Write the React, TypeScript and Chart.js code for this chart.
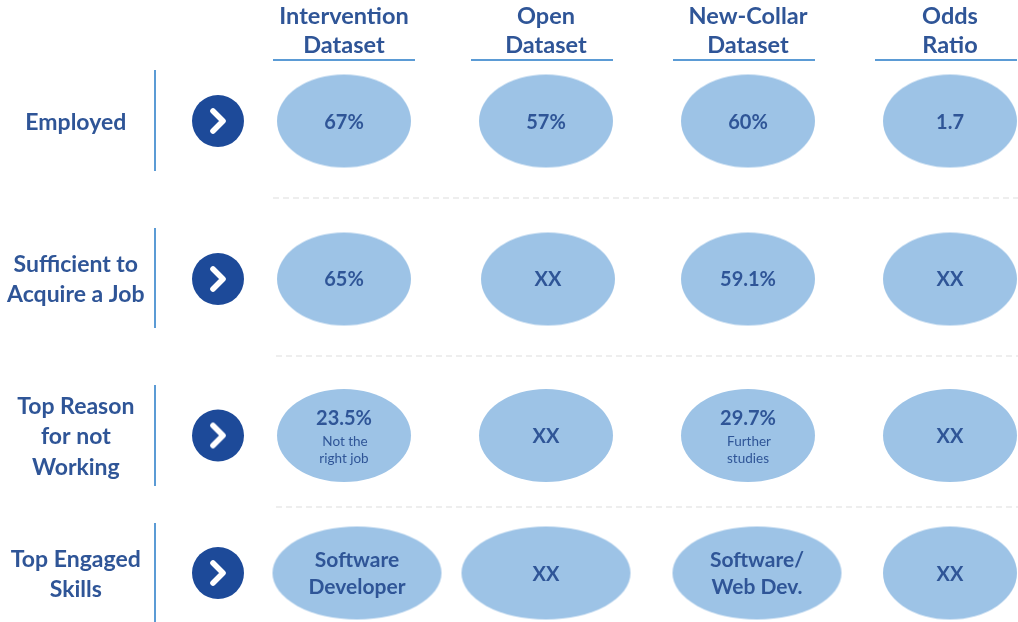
import React, { useEffect, useRef } from "react";
import { Chart, registerables } from "chart.js";

Chart.register(...registerables);

// ---- content ----
const columnLabels = [["Intervention", "Dataset"], ["Open", "Dataset"], ["New-Collar", "Dataset"], ["Odds", "Ratio"]];
const rowLabels = [["Employed"], ["Sufficient to", "Acquire a Job"], ["Top Reason", "for not", "Working"], ["Top Engaged", "Skills"]];
const employedValues = ["67%", "57%", "60%", "1.7"];
const sufficientValues = ["65%", "XX", "59.1%", "XX"];
const reasonValues = ["23.5%", "XX", "29.7%", "XX"];
const reasonNotes = [["Not the", "right job"], [], ["Further", "studies"], []];
const skillValues = [["Software", "Developer"], ["XX"], ["Software/", "Web Dev."], ["XX"]];

// ---- layout (separate from content) ----
const W = 1018;
const H = 622;
const HEADER_H = 60;
const columnCenters = [344, 546, 748, 950];
const rowCenters = [121, 279, 435.5, 573];
const rowLabelCenters = [122.5, 280, 437, 574.5];
const cellX = [
  [344, 546, 748, 950],
  [344, 548, 748, 950],
  [344, 546, 748, 950],
  [357, 546, 757, 950],
];
const cellRx = [
  [67, 67, 67, 67],
  [67, 67, 67, 67],
  [67, 67, 67, 67],
  [84.5, 84.5, 84.5, 67],
];
const CELL_RY = 46.5;
const ARROW_X = 218;
const ruleX = 155;
const ruleSpans = [[70, 171], [228, 328], [385, 486], [523, 622]];
const dividers = [[198, 273], [356, 276], [507, 276]];
const underlineSpans = [[273, 415], [471, 613], [673, 815], [875, 1017]];

const INK = "#2F5597";
const CELL = "#9DC3E6";
const ARROW = "#1D4A99";
const RULE = "#5B9BD5";
const DIVIDER = "#E9E9E9";
const FONT = "Lato, 'Open Sans', sans-serif";

function ellipseSprite(rx: number, ry: number) {
  const c = document.createElement("canvas");
  c.width = Math.ceil(rx * 2) + 2;
  c.height = Math.ceil(ry * 2) + 2;
  const g = c.getContext("2d")!;
  g.fillStyle = CELL;
  g.beginPath();
  g.ellipse(c.width / 2, c.height / 2, rx, ry, 0, 0, Math.PI * 2);
  g.fill();
  return c;
}

function chevronSprite() {
  const c = document.createElement("canvas");
  c.width = 24;
  c.height = 32;
  const g = c.getContext("2d")!;
  g.strokeStyle = "#FFFFFF";
  g.lineWidth = 5.6;
  g.lineCap = "round";
  g.lineJoin = "round";
  g.beginPath();
  g.moveTo(7, 6);
  g.lineTo(17, 16);
  g.lineTo(7, 26);
  g.stroke();
  return c;
}

const cellText = {
  id: "cellText",
  afterDatasetsDraw(chart: any) {
    const ctx = chart.ctx;
    const idx = chart.data.datasets.findIndex((d: any) => d.label === "cells");
    const pts = chart.getDatasetMeta(idx).data;
    ctx.save();
    ctx.fillStyle = INK;
    ctx.textAlign = "center";
    ctx.textBaseline = "middle";
    const put = (s: string, x: number, y: number, font: string) => {
      ctx.font = font;
      ctx.fillText(s, x, y);
    };
    const big = `bold 20px ${FONT}`;
    const mid = `bold 21px ${FONT}`;
    const small = `13.5px ${FONT}`;
    for (let c = 0; c < 4; c++) {
      const a = pts[c];
      put(employedValues[c], a.x, a.y + 1.5, big);
      const b = pts[4 + c];
      put(sufficientValues[c], b.x, b.y + 1, big);
      const r = pts[8 + c];
      if (reasonNotes[c].length) {
        put(reasonValues[c], r.x, r.y - 17, big);
        put(reasonNotes[c][0], r.x + 1, r.y + 6, small);
        put(reasonNotes[c][1], r.x, r.y + 23, small);
      } else {
        put(reasonValues[c], r.x, r.y + 1.5, big);
      }
      const s = pts[12 + c];
      const lines = skillValues[c];
      if (lines.length === 2) {
        put(lines[0], s.x, s.y - 13, mid);
        put(lines[1], s.x, s.y + 14, mid);
      } else {
        put(lines[0], s.x, s.y + 1.5, big);
      }
    }
    ctx.restore();
  },
};

export default function App() {
  const ref = useRef<HTMLCanvasElement>(null);
  useEffect(() => {
    const cellPts: any[] = [];
    const cellSprites: any[] = [];
    cellX.forEach((row, r) =>
      row.forEach((x, c) => {
        cellPts.push({ x, y: rowCenters[r] });
        cellSprites.push(ellipseSprite(cellRx[r][c], CELL_RY));
      })
    );
    const seg = (pts: any[], color: string, width: number, dash: number[] = []) => ({
      type: "scatter",
      data: pts,
      showLine: true,
      borderColor: color,
      borderWidth: width,
      borderDash: dash,
      pointRadius: 0,
      clip: false,
      order: 5,
    });
    const chart = new Chart(ref.current!, {
      type: "scatter",
      data: {
        datasets: [
          {
            label: "chevrons",
            data: rowCenters.map((y) => ({ x: ARROW_X, y })),
            pointStyle: chevronSprite(),
            pointRadius: 10,
            clip: false,
            order: 0,
          },
          {
            label: "arrows",
            data: rowCenters.map((y) => ({ x: ARROW_X, y })),
            pointStyle: "circle",
            pointRadius: 26,
            pointBackgroundColor: ARROW,
            pointBorderWidth: 0,
            clip: false,
            order: 1,
          },
          {
            label: "cells",
            data: cellPts,
            pointStyle: cellSprites,
            pointRadius: 10,
            clip: false,
            order: 2,
          },
          ...ruleSpans.map(([a, b]) => seg([{ x: ruleX, y: a }, { x: ruleX, y: b }], RULE, 2)),
          ...underlineSpans.map(([a, b]) => seg([{ x: a, y: HEADER_H }, { x: b, y: HEADER_H }], RULE, 2)),
          ...dividers.map(([y, x0]) => seg([{ x: x0, y }, { x: W, y }], DIVIDER, 1.5, [6, 4])),
        ] as any,
      },
      options: {
        animation: false,
        responsive: false,
        layout: { padding: 0, autoPadding: false },
        plugins: { legend: { display: false }, tooltip: { enabled: false } },
        events: [],
        scales: {
          x: {
            type: "linear",
            position: "top",
            min: 0,
            max: W,
            grid: { display: false, drawTicks: false },
            border: { display: false },
            afterBuildTicks(s: any) {
              s.ticks = columnCenters.map((value) => ({ value }));
            },
            afterFit(s: any) {
              s.height = HEADER_H;
              s.paddingLeft = 0;
              s.paddingRight = 0;
            },
            ticks: {
              autoSkip: false,
              maxRotation: 0,
              padding: 0,
              color: INK,
              font: { family: FONT, weight: "bold", size: 23.5, lineHeight: 1.25 },
              callback: (_v: any, i: number) => columnLabels[i],
            },
          },
          y: {
            type: "linear",
            reverse: true,
            min: HEADER_H,
            max: H,
            grid: { display: false, drawTicks: false },
            border: { display: false },
            afterBuildTicks(s: any) {
              s.ticks = rowLabelCenters.map((value) => ({ value }));
            },
            afterFit(s: any) {
              s.width = 0;
              s.paddingTop = 0;
              s.paddingBottom = 0;
            },
            ticks: {
              autoSkip: false,
              mirror: true,
              crossAlign: "center",
              padding: 7,
              color: INK,
              font: { family: FONT, weight: "bold", size: 23, lineHeight: 1.31 },
              callback: (_v: any, i: number) => rowLabels[i],
            },
          },
        },
      } as any,
      plugins: [cellText],
    });
    return () => chart.destroy();
  }, []);
  return (
    <div style={{ position: "fixed", left: 0, top: 0, width: W, height: H, background: "#FFFFFF" }}>
      <canvas ref={ref} width={W} height={H} style={{ display: "block" }} />
    </div>
  );
}
